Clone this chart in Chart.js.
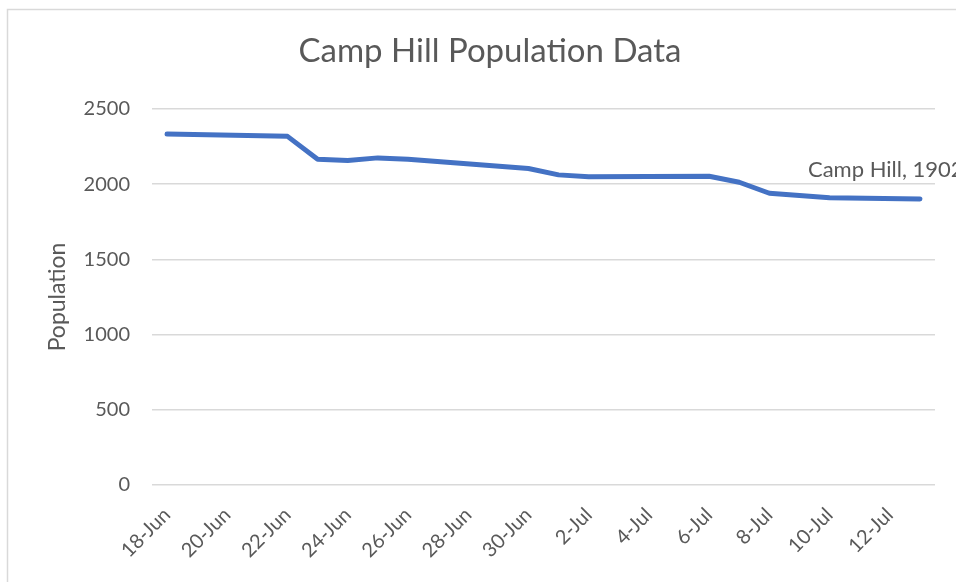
<!DOCTYPE html>
<html>
<head>
<meta charset="utf-8">
<script src="https://cdn.jsdelivr.net/npm/chart.js@4"></script>
<style>
  html, body { margin: 0; padding: 0; background: #fff; }
  #wrap { width: 956px; height: 582px; }
</style>
</head>
<body>
<div id="wrap"><canvas id="popChart" width="956" height="582"></canvas></div>
<script>
// daily categories, 18-Jun .. 13-Jul
const dates = [
    "18-Jun", "19-Jun", "20-Jun", "21-Jun", "22-Jun", "23-Jun", "24-Jun",
    "25-Jun", "26-Jun", "27-Jun", "28-Jun", "29-Jun", "30-Jun", "1-Jul",
    "2-Jul", "3-Jul", "4-Jul", "5-Jul", "6-Jul", "7-Jul", "8-Jul",
    "9-Jul", "10-Jul", "11-Jul", "12-Jul", "13-Jul"
];

// null = no reading that day (line spans the gap)
const population = [
    2334, null, null, null, 2318, 2166, 2157,
    2175, 2166, null, null, null, 2104, 2062,
    2049, null, null, null, 2053, 2013, 1940,
    null, 1910, null, null, 1902
];

const seriesName = "Camp Hill";
const yTicks = [0, 500, 1000, 1500, 2000, 2500];

const grey = "#595959";
const font = "Lato, 'Open Sans', sans-serif";

// frame around the whole chart + title + last point label
const extras = {
    id: "extras",
    beforeDraw(chart) {
        const ctx = chart.ctx;
        ctx.save();
        ctx.strokeStyle = "#d9d9d9";
        ctx.lineWidth = 1.5;
        ctx.strokeRect(7.5, 9.5, chart.width + 20, chart.height + 20);
        ctx.restore();
    },
    afterDraw(chart) {
        const ctx = chart.ctx;
        ctx.save();
        ctx.fillStyle = grey;
        ctx.font = "33px " + font;
        ctx.textAlign = "center";
        ctx.textBaseline = "alphabetic";
        ctx.fillText("Camp Hill Population Data", 490, 62);

        const meta = chart.getDatasetMeta(0);
        const last = population.length - 1;
        const pt = meta.data[last];
        ctx.font = "22px " + font;
        ctx.textAlign = "left";
        ctx.fillText(seriesName + ", " + population[last], pt.x - 112, pt.y - 22);
        ctx.restore();
    }
};

new Chart(
    document.getElementById("popChart"),
    {
        type: "line",
        data: {
            labels: dates,
            datasets: [{
                label: seriesName,
                data: population,
                borderColor: "#4472c4",
                borderWidth: 5,
                pointRadius: 0,
                spanGaps: true,
                tension: 0,
                borderCapStyle: "round",
                borderJoinStyle: "round"
            }]
        },
        plugins: [extras],
        options: {
            responsive: false,
            animation: false,
            layout: {
                padding: { left: 44, right: 21, top: 109, bottom: 0 }
            },
            plugins: {
                legend: { display: false },
                tooltip: { enabled: false }
            },
            scales: {
                x: {
                    offset: true,
                    grid: { display: false, drawTicks: false },
                    border: { display: false },
                    ticks: {
                        autoSkip: false,
                        maxRotation: 45,
                        minRotation: 45,
                        padding: 18,
                        color: grey,
                        font: { family: font, size: 20 },
                        callback: (v, i) => i % 2 === 0 ? dates[i] : ""
                    },
                    afterFit: s => { s.height = 97; }
                },
                y: {
                    min: 0,
                    max: 2500,
                    afterBuildTicks: s => {
                        s.ticks = yTicks.map(v => ({ value: v }));
                    },
                    grid: { color: "#d9d9d9", lineWidth: 1.5, drawTicks: false },
                    border: { display: false },
                    ticks: {
                        padding: 22,
                        color: grey,
                        font: { family: font, size: 20 },
                        callback: v => String(v)
                    },
                    title: {
                        display: true,
                        text: "Population",
                        color: grey,
                        font: { family: font, size: 23 },
                        padding: 0
                    },
                    afterFit: s => { s.width = 108; }
                }
            }
        }
    }
);
</script>
</body>
</html>
